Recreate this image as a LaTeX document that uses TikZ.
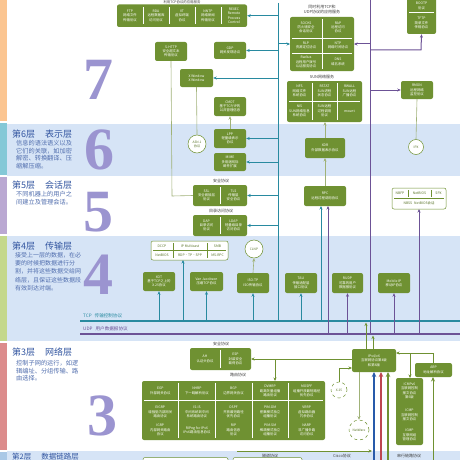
\documentclass[tikz,border=0pt]{standalone}
\usepackage{fontspec}
\setmainfont{Liberation Serif}
\newfontfamily\cjk{Noto Sans CJK SC}
\usetikzlibrary{arrows.meta}
\definecolor{gr}{RGB}{111,145,50}
\definecolor{teal1}{RGB}{40,138,160}
\definecolor{purp}{RGB}{108,82,150}
\definecolor{lgr}{RGB}{160,178,120}
\definecolor{band}{RGB}{214,228,246}
\definecolor{orng}{RGB}{251,197,145}
\definecolor{s6}{RGB}{132,200,215}
\definecolor{s5}{RGB}{186,168,210}
\definecolor{s4}{RGB}{196,216,140}
\definecolor{s3}{RGB}{220,140,140}
\definecolor{s2}{RGB}{170,200,230}
\definecolor{digit}{RGB}{155,148,208}
\definecolor{ttlc}{RGB}{50,85,160}
\definecolor{cblue}{RGB}{40,90,170}
\definecolor{cred}{RGB}{190,70,80}
\tikzset{
 gbox/.style={rectangle, rounded corners=2pt, fill=gr, text=white, font=\cjk\fontsize{3.4}{4.3}\selectfont, align=center, inner sep=0pt},
 ctxt/.style={text=white, font=\cjk\fontsize{3.4}{4.3}\selectfont, align=center, inner sep=0pt},
 otxt/.style={text=gr!80!black, font=\cjk\fontsize{3.4}{4.3}\selectfont, align=center, inner sep=0pt},
 obox/.style={rectangle, rounded corners=2pt, draw=gr, line width=0.5pt, fill=white, inner sep=0pt},
 circ/.style={circle, draw=gr, line width=0.5pt, fill=white, text=gr!80!black, font=\cjk\fontsize{3.2}{4}\selectfont, align=center, inner sep=0pt},
 lbl/.style={text=black!75, font=\cjk\fontsize{4}{5}\selectfont, inner sep=0pt, align=center},
 ttl/.style={text=ttlc, font=\cjk\fontsize{9}{10}\selectfont, inner sep=0pt, anchor=north west},
 desc/.style={text=ttlc!85, font=\cjk\fontsize{6.2}{7.6}\selectfont, inner sep=0pt, anchor=north west, align=left},
 dig/.style={text=digit, font=\bfseries\fontsize{60}{60}\selectfont, inner sep=0pt},
 tl/.style={teal1, line width=1pt},
 pl/.style={purp, line width=1pt},
 gl/.style={lgr, line width=0.6pt},
 arr/.style={-{Stealth[length=3.5pt,width=3pt]}},
 div/.style={white, line width=0.4pt},
 odiv/.style={gr, line width=0.4pt},
}
\newcommand\gbx[6]{\node[gbox,minimum width={#4-#2},minimum height={#5-#3}] (#1) at ({(#2+#4)/2},{(#3+#5)/2}) {#6};}
\newcommand\obx[5]{\node[obox,minimum width={#4-#2},minimum height={#5-#3}] (#1) at ({(#2+#4)/2},{(#3+#5)/2}) {};}
\begin{document}
\begin{tikzpicture}[x=1pt,y=-1pt]
\clip (0,0) rectangle (460,460);
\fill[white] (0,0) rectangle (460,460);
% bands
\fill[band] (7,124) rectangle (460,176);
\fill[band] (7,236) rectangle (460,341);
\fill[band] (7,451) rectangle (460,460);
% stripes
\fill[orng] (0,0) rectangle (7,121);
\fill[s6] (0,123) rectangle (7,175);
\fill[s5] (0,177) rectangle (7,234);
\fill[s4] (0,236) rectangle (7,341);
\fill[s3] (0,343) rectangle (7,450);
\fill[s2] (0,452) rectangle (7,460);
% digits
\node[dig] (d7) at (98,80) {7};
\node[dig] (d6) at (99,150) {6};
\node[dig] (d5) at (98,212) {5};
\node[dig] (d4) at (98,275) {4};
\node[dig] (d3) at (102,416) {3};
% titles
\node[ttl] (t6) at (12,129.5) {第6层\hspace{10pt}表示层};
\node[desc] (ds6) at (16,140) {信息的语法语义以及\\它们的关联，如加密\\解密、转换翻译、压\\缩解压缩。};
\node[ttl] (t5) at (12,181) {第5层\hspace{10pt}会话层};
\node[desc] (ds5) at (16,191) {不同机器上的用户之\\间建立及管理会话。};
\node[ttl] (t4) at (12,241.5) {第4层\hspace{10pt}传输层};
\node[desc,font=\cjk\fontsize{6}{8.3}\selectfont] (ds4) at (15,252) {接受上一层的数据，在必\\要的时候把数据进行分\\割，并将这些数据交给网\\络层，且保证这些数据段\\有效到达对端。};
\node[ttl] (t3) at (12,348) {第3层\hspace{10pt}网络层};
\node[desc] (ds3) at (16,360) {控制子网的运行，如逻\\辑编址、分组传输、路\\由选择。};
\node[ttl,font=\cjk\fontsize{7.5}{8}\selectfont] (t2) at (12,452.5) {第2层\hspace{10pt}数据链路层};
% main verticals and buses
\coordinate (tv) at (278,0);
\coordinate (pv) at (370,0);
\coordinate (tcpL) at (80,321);
\coordinate (tcpR) at (460,321);
\coordinate (udpL) at (80,334);
\coordinate (udpR) at (460,334);
\draw[tl] (278,3) -- (tv |- tcpL);
\draw[pl] (pv) -- (pv |- udpL);
\draw[teal1, line width=2.2pt] (tcpL) -- (tcpR);
\draw[purp, line width=2pt] (udpL) -- (udpR);
\node[anchor=south west, inner sep=0pt, text=teal1, font=\cjk\fontsize{4.6}{5}\selectfont] (tcplbl) at (83,318.5) {TCP\hspace{3pt}传输控制协议};
\node[anchor=south west, inner sep=0pt, text=purp, font=\cjk\fontsize{4.6}{5}\selectfont] (udplbl) at (83,331.5) {UDP\hspace{3pt}用户数据报协议};
% ===== Layer 7 =====
\node[lbl, anchor=north, font=\cjk\fontsize{3.4}{4}\selectfont] (l7top) at (182,0.2) {利用TCP协议的应用服务};
\gbx{g7a}{117}{4.5}{247}{27}{}
\foreach \xx in {143,169,195,221} \draw[div] (\xx,7.5) -- (\xx,24);
\node[ctxt] (c7a1) at (130,15.8) {FTP\\网络文件\\传输协议};
\node[ctxt] (c7a2) at (156,15.8) {RDA\\远程数据库\\访问协议};
\node[ctxt] (c7a3) at (182,15.8) {VT\\虚拟终端\\协议};
\node[ctxt] (c7a4) at (208,15.8) {NNTP\\网络新闻\\传输协议};
\node[ctxt] (c7a5) at (234,15.8) {REXEC\\Remote\\Process\\Control};
\draw[tl,arr] (tv |- g7a.east) -- (g7a.east);
\gbx{shttp}{155}{42}{187}{61}{S-HTTP\\安全超文本\\传输协议}
\gbx{gdp}{214}{42}{246}{59}{GDP\\网关发现协议}
\gbx{xwin}{180}{69}{213}{87}{X Window\\X Window}
\gbx{cmot}{214}{97}{246}{116}{CMOT\\基于TCP/IP的\\公共管理信息}
\draw[tl,arr] (tv |- gdp.east) -- (gdp.east);
\draw[tl,arr] (tv |- xwin.east) -- (xwin.east);
% TCP+UDP group
\node[lbl] (l7mid) at (322,10) {同时利用TCP和\\UDP协议的应用服务};
\gbx{g7b}{290}{17}{354}{71}{}
\draw[div] (322,19) -- (322,69);
\draw[div] (292,38) -- (352,38);
\draw[div] (292,53) -- (352,53);
\node[ctxt] (c7b1) at (306,27.5) {SOCKS\\防火墙安全\\会话协议};
\node[ctxt] (c7b2) at (338,27.5) {RAP\\远程访问\\协议};
\node[ctxt] (c7b3) at (306,45.5) {RLP\\资源定位协议};
\node[ctxt] (c7b4) at (338,45.5) {NTP\\网络时间协议};
\node[ctxt] (c7b5) at (306,62) {Radius\\远程用户拨号\\认证服务协议};
\node[ctxt] (c7b6) at (338,62) {DNS\\域名系统};
\coordinate (g7bl) at (290,44);
\coordinate (g7br) at (354,44);
\draw[tl,arr] (tv |- g7bl) -- (g7bl);
\draw[pl,arr] (pv |- g7br) -- (g7br);
% SUN group
\node[lbl] (lsun) at (322,77) {SUN网络服务};
\gbx{g7c}{287}{81}{362}{122}{}
\draw[div] (289,101) -- (360,101);
\draw[div] (312,83) -- (312,120);
\draw[div] (337,83) -- (337,120);
\node[ctxt] (c7c1) at (299.5,91) {NFS\\网络文件\\系统协议};
\node[ctxt] (c7c2) at (324.5,91) {RSTAT\\SUN进程\\状态协议};
\node[ctxt] (c7c3) at (349.5,91) {RWALL\\SUN远程\\广播协议};
\node[ctxt] (c7c4) at (299.5,111) {NIS\\SUN网络信息\\系统协议};
\node[ctxt] (c7c5) at (324.5,111) {SUN远程\\过程调用\\协议};
\node[ctxt] (c7c6) at (349.5,111) {mount};
% right top box
\gbx{g7d}{407}{-4}{436}{34}{}
\draw[div] (409,12) -- (434,12);
\node[ctxt] (c7d1) at (421.5,6) {BOOTP\\协议};
\node[ctxt] (c7d2) at (421.5,23) {TFTP\\简单文件\\传输协议};
\coordinate (pj) at (421,50);
\draw[pl,arr] (pv |- pj) -- (pj) -- (g7d.south);
\gbx{rmon}{401}{81}{433}{99}{RMON\\远程网络\\监控协议}
\draw[pl,arr] (pv |- rmon.west) -- (rmon.west);
% ===== Layer 6 =====
\node[circ, minimum size=18pt] (asn) at (197,144) {ASN.1\\协议};
\gbx{lpp}{214}{129}{246}{148}{LPP\\轻量级表示\\协议}
\gbx{mime}{214}{153}{246}{171}{MIME\\多用途网际\\邮件扩展}
\draw[tl,arr] (tv |- lpp.east) -- (lpp.east);
\draw[tl,arr] (tv |- mime.east) -- (mime.east);
\gbx{xdr}{305}{138}{345}{158}{XDR\\外部数据表示协议}
\node[circ, minimum size=15pt] (ipx) at (416,147) {IPX};
\draw[gl] (xwin.south) -- (asn.north);
\draw[gl,arr] (lpp.north) -- (cmot.south);
\draw[gl] (rmon.south) -- (ipx.north);
% ===== Layer 5 =====
\node[lbl] (l5a) at (221,181) {安全协议};
\gbx{g5a}{193}{185}{247}{206}{}
\draw[div] (220,187) -- (220,204);
\node[ctxt] (c5a1) at (206.5,195.5) {SSL\\安全套接层\\协议};
\node[ctxt] (c5a2) at (233.5,195.5) {TLS\\传输层\\安全协议};
\node[lbl] (l5b) at (221,210.5) {目录访问协议};
\gbx{g5b}{193}{215}{247}{236}{}
\draw[div] (220,217) -- (220,234);
\node[ctxt] (c5b1) at (206.5,225.5) {DAP\\目录访问\\协议};
\node[ctxt] (c5b2) at (233.5,225.5) {LDAP\\轻量级目录\\访问协议};
\draw[tl,arr] (tv |- g5a.east) -- (g5a.east);
\draw[tl,arr] (tv |- g5b.east) -- (g5b.east);
\coordinate (sh1) at (172,196);
\draw[gl] (shttp.south) -- (sh1) -- (g5a.west);
\gbx{rpc}{304}{186}{346}{206}{RPC\\远程过程调用协议}
\coordinate (rpcT) at (325,186);
\coordinate (xdrB) at (325,158);
\coordinate (xdrT) at (325,138);
\coordinate (g7cB) at (325,122);
\draw[gl,arr] (rpcT) -- (xdrB);
\draw[gl,arr] (xdrT) -- (g7cB);
\coordinate (rpcB1) at (321,206);
\coordinate (rpcB2) at (328,206);
\draw[tl,arr] (rpcB1 |- tcpL) -- (rpcB1);
\draw[pl,arr] (rpcB2 |- udpL) -- (rpcB2);
\obx{g5c}{392}{188}{446}{209}
\draw[odiv] (394,198) -- (444,198);
\draw[odiv] (408,190) -- (408,197);
\draw[odiv] (431,190) -- (431,197);
\node[otxt] (c5c1) at (400,193.5) {NBFP};
\node[otxt] (c5c2) at (419.5,193.5) {NetBIOS};
\node[otxt] (c5c3) at (438.5,193.5) {SPX};
\node[otxt] (c5c4) at (419,203.5) {NBSS\hspace{2pt}NetBIOS会话};
\coordinate (g5cB) at (419,209);
\draw[pl,arr] (g5cB |- udpL) -- (g5cB);
% ===== Layer 4 =====
\obx{g4a}{151}{241}{228}{260}
\draw[odiv] (153,250.5) -- (226,250.5);
\draw[odiv] (173,243) -- (173,258);
\draw[odiv] (207,243) -- (207,258);
\node[otxt] (c4a1) at (162,246) {DCCP};
\node[otxt] (c4a2) at (190,246) {IP Multicast};
\node[otxt] (c4a3) at (217.5,246) {SMB};
\node[otxt] (c4a4) at (162,255.5) {NetBIOS};
\node[otxt] (c4a5) at (190,255.5) {RDP·TP·SPP};
\node[otxt] (c4a6) at (217.5,255.5) {MS-RPC};
\coordinate (g4aB) at (183,260);
\draw[tl,arr] (g4aB |- tcpL) -- (g4aB);
\gbx{xot}{143}{272}{175}{291}{XOT\\基于TCP之上的\\X.25协议}
\gbx{vj}{190}{272}{223}{291}{Van Jacobson\\压缩TCP协议}
\node[circ, minimum size=18pt] (clnp) at (254,249) {CLNP};
\gbx{isotp}{237}{273}{269}{293}{ISO-TP\\ISO传输协议}
\gbx{tali}{285}{273}{317}{293}{TALI\\传输适配层\\接口协议}
\gbx{rudp}{332}{273}{363}{293}{RUDP\\可靠的用户\\数据报协议}
\gbx{mip}{378}{273}{410}{293}{Mobile IP\\移动IP协议}
\draw[tl,arr] (xot.south |- tcpL) -- (xot.south);
\draw[tl,arr] (vj.south |- tcpL) -- (vj.south);
\draw[tl,arr] (isotp.south |- tcpL) -- (isotp.south);
\draw[tl,arr] (tali.south |- tcpL) -- (tali.south);
\draw[pl,arr] (rudp.south |- udpL) -- (rudp.south);
\draw[pl,arr] (mip.south |- udpL) -- (mip.south);
\draw[gl,arr] (isotp.north) -- (clnp.south);
% ===== Layer 3 =====
\node[lbl] (l3a) at (221,343.5) {安全协议};
\gbx{g3a}{190}{348}{251}{370}{}
\draw[div] (220,350) -- (220,368);
\node[ctxt] (c3a1) at (205,359) {AH\\认证头协议};
\node[ctxt] (c3a2) at (235.5,359) {ESP\\封装安全\\载荷协议};
\gbx{ipv4}{352}{349}{396}{372}{IPv4/v6\\互联网协议第4版\\和第6版}
\coordinate (ipL) at (352,359);
\coordinate (ahR) at (251,359);
\coordinate (rj) at (275,359);
\coordinate (rgT) at (275,381);
\draw[gl,arr,gr] (ipL) -- (ahR);
\draw[gl,arr,gr] (rj) -- (rgT);
\coordinate (ip1) at (366,349);
\coordinate (ip2) at (373,349);
\draw[gr,line width=0.9pt,arr] (ip1) -- (366,322.5);
\draw[gr,line width=0.9pt,arr] (ip2) -- (373,335.5);
\node[lbl] (l3b) at (238,374.5) {路由协议};
\gbx{g3b}{142}{381}{325}{440}{}
\draw[div] (144,400.5) -- (323,400.5);
\foreach \xx in {178.6,215.2,251.8,288.4} \draw[div] (\xx,383) -- (\xx,438);
\node[ctxt] (r11) at (160.3,391) {EGP\\外部网关协议};
\node[ctxt] (r12) at (160.3,412) {EIGRP\\增强型内部网关\\路由协议};
\node[ctxt] (r13) at (160.3,430) {IGRP\\内部网关路由\\协议};
\node[ctxt] (r21) at (196.9,391) {NHRP\\下一跳解析协议};
\node[ctxt] (r22) at (196.9,412) {IS-IS\\中间系统到中间\\系统路由协议};
\node[ctxt] (r23) at (196.9,430) {RIPng for IPv6\\IPv6路由信息协议};
\node[ctxt] (r31) at (233.5,391) {BGP\\边界网关协议};
\node[ctxt] (r32) at (233.5,412) {OSPF\\开放最短路径\\优先协议};
\node[ctxt] (r33) at (233.5,430) {RIP\\路由信息\\协议};
\node[ctxt] (r41) at (270.1,391) {DVMRP\\距离矢量组播\\路由协议};
\node[ctxt] (r42) at (270.1,412) {PIM-DM\\密集模式独立\\组播协议};
\node[ctxt] (r43) at (270.1,430) {PIM-SM\\稀疏模式独立\\组播协议};
\node[ctxt] (r51) at (306.7,391) {MOSPF\\组播开放最短路径\\优先协议};
\node[ctxt] (r52) at (306.7,412) {VRRP\\虚拟路由器\\冗余协议};
\node[ctxt] (r53) at (306.7,430) {NARP\\非广播多路\\访问协议};
\node[circ, dashed, minimum size=16pt] (x25) at (339,390) {X.25};
\node[circ, dashed, minimum size=20pt] (nw) at (359,430) {NetWare};
\coordinate (xj) at (339,368);
\coordinate (ipL2) at (352,368);
\draw[gl,gr,arr] (x25.north) -- (xj) -- (ipL2);
\coordinate (ipB) at (359,372);
\draw[gl,arr] (ipB) -- (nw.north);
\coordinate (cb) at (374,372);
\coordinate (cr) at (381,372);
\coordinate (cg) at (388,372);
\draw[cblue,line width=1.4pt,-{Stealth[length=5pt,width=4.5pt]}] (374,462) -- (cb);
\draw[cred,line width=1.4pt,-{Stealth[length=5pt,width=4.5pt]}] (381,462) -- (cr);
\draw[gr,line width=1.4pt,-{Stealth[length=5pt,width=4.5pt]}] (388,462) -- (cg);
\gbx{arp}{415}{363}{452}{377}{ARP\\地址解析协议}
\gbx{icmp}{396}{378}{423}{445}{}
\node[ctxt] (ic1) at (409.5,391) {ICMPv6\\互联网控制\\报文协议\\第6版};
\node[ctxt] (ic2) at (409.5,415) {ICMP\\互联网控制\\报文协议};
\node[ctxt] (ic3) at (409.5,435) {IGMP\\互联网组\\管理协议};
\coordinate (ipR) at (396,353);
\coordinate (aj) at (433,353);
\coordinate (arpT) at (433,363);
\coordinate (ij) at (410,353);
\coordinate (icT) at (410,378);
\draw[gl,gr,arr] (arpT) -- (aj) -- (ipR);
\draw[gl,gr,arr] (ij) -- (icT);
\coordinate (arpB) at (433,377);
\draw[gr,line width=1pt,-{Stealth[length=4.5pt,width=4pt]}] (433,462) -- (arpB);
% bottom labels
\coordinate (bl1) at (237,451);
\coordinate (bl2) at (372,451);
\draw[gl,gr,arr] (bl1) -- (bl2);
\node[lbl] (lb1) at (270,455.5) {隧道协议};
\node[lbl] (lb2) at (342,455.5) {Cisco协议};
\node[lbl] (lb3) at (409,455.5) {串行链路协议};
\obx{b2a}{143}{457.5}{228}{472}
\obx{b2b}{233}{457.5}{302}{472}
\end{tikzpicture}
\end{document}
